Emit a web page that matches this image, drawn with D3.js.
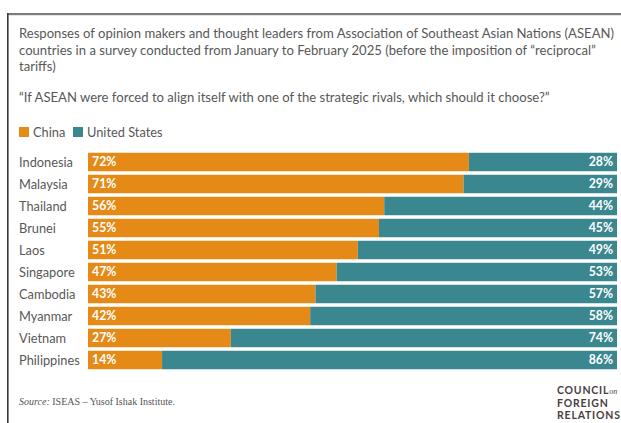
<!DOCTYPE html>
<html><head><meta charset="utf-8">
<script src="https://cdn.jsdelivr.net/npm/d3@7"></script>
<style>
html,body{margin:0;padding:0;background:#fff;overflow:hidden;}
svg{display:block;}
</style></head>
<body>
<svg id="chart" width="621" height="423"></svg>
<script>
const countries = ["Indonesia","Malaysia","Thailand","Brunei","Laos","Singapore","Cambodia","Myanmar","Vietnam","Philippines"];
const china = [72,71,56,55,51,47,43,42,27,14];
const us = [28,29,44,45,49,53,57,58,74,86];
const seriesNames = ["China","United States"];
const colors = ["#E68A17","#3A878F"];
const titleLines = [
  "Responses of opinion makers and thought leaders from Association of Southeast Asian Nations (ASEAN)",
  "countries in a survey conducted from January to February 2025 (before the imposition of \u201creciprocal\u201d",
  "tariffs)"
];
const question = "\u201cIf ASEAN were forced to align itself with one of the strategic rivals, which should it choose?\u201d";

const svg = d3.select("#chart");
const font = "Lato, 'Open Sans', sans-serif";
const textCol = "#585858";

// frame: top rule (gray) and left rule (dark)
svg.append("rect").attr("x",7).attr("y",13).attr("width",616).attr("height",2.2).attr("fill","#7d7d7d");
svg.append("rect").attr("x",7).attr("y",13).attr("width",1.6).attr("height",412).attr("fill","#3a3a3a");

// title
svg.append("g").selectAll("text").data(titleLines).join("text")
  .attr("x",19).attr("y",(d,i)=>38+i*16.5)
  .attr("font-family",font).attr("font-size",13.1).attr("fill",textCol)
  .text(d=>d);
svg.append("text").attr("x",19).attr("y",102)
  .attr("font-family",font).attr("font-size",13.1).attr("fill",textCol).text(question);

// legend
const leg = svg.append("g");
const legX = [19,73];
seriesNames.forEach((n,i)=>{
  leg.append("rect").attr("x",legX[i]).attr("y",127).attr("width",10).attr("height",10).attr("fill",colors[i]);
  leg.append("text").attr("x",legX[i]+14).attr("y",136.5).attr("font-family",font)
    .attr("font-size",12.8).attr("fill",textCol).text(n);
});

const x = d3.scaleLinear().domain([0,100]).range([88,617]);
const y = d3.scaleBand().domain(countries).range([151,371]).paddingInner(0.16).paddingOuter(0.08);

const rows = svg.append("g").selectAll("g").data(countries).join("g");
rows.append("rect").attr("x",x(0)).attr("y",d=>y(d)).attr("height",y.bandwidth())
  .attr("width",(d,i)=>x(china[i])-x(0)).attr("fill",colors[0]);
rows.append("rect").attr("x",(d,i)=>x(china[i])).attr("y",d=>y(d)).attr("height",y.bandwidth())
  .attr("width",(d,i)=>x(100)-x(china[i])).attr("fill",colors[1]);
rows.append("text").attr("x",19).attr("y",d=>y(d)+y.bandwidth()/2).attr("dy","0.36em")
  .attr("font-family",font).attr("font-size",12.8).attr("fill",textCol).text(d=>d);
rows.append("text").attr("x",x(0)+4).attr("y",d=>y(d)+y.bandwidth()/2).attr("dy","0.36em")
  .attr("font-family",font).attr("font-size",12.3).attr("font-weight",700).attr("fill","#fff")
  .text((d,i)=>china[i]+"%");
rows.append("text").attr("x",x(100)-4).attr("y",d=>y(d)+y.bandwidth()/2).attr("dy","0.36em")
  .attr("text-anchor","end")
  .attr("font-family",font).attr("font-size",12.3).attr("font-weight",700).attr("fill","#fff")
  .text((d,i)=>us[i]+"%");

// source
const src = svg.append("text").attr("x",19).attr("y",405)
  .attr("font-family","'Liberation Serif', 'DejaVu Serif', serif").attr("font-size",10).attr("fill","#555");
src.append("tspan").attr("font-style","italic").text("Source:");
src.append("tspan").text(" ISEAS \u2013 Yusof Ishak Institute.");

// logo
const logo = svg.append("g").attr("font-family",font).attr("font-weight",700)
  .attr("font-size",10.5).attr("fill","#4a3e3e").attr("letter-spacing",0.8);
const l1 = logo.append("text").attr("x",557).attr("y",394);
l1.append("tspan").text("COUNCIL");
l1.append("tspan").attr("font-family","'Liberation Serif', serif").attr("font-style","italic")
  .attr("font-weight",400).attr("font-size",8).attr("letter-spacing",0).text("on");
logo.append("text").attr("x",557).attr("y",406.5).text("FOREIGN");
logo.append("text").attr("x",557).attr("y",419).text("RELATIONS");
</script>
</body></html>
